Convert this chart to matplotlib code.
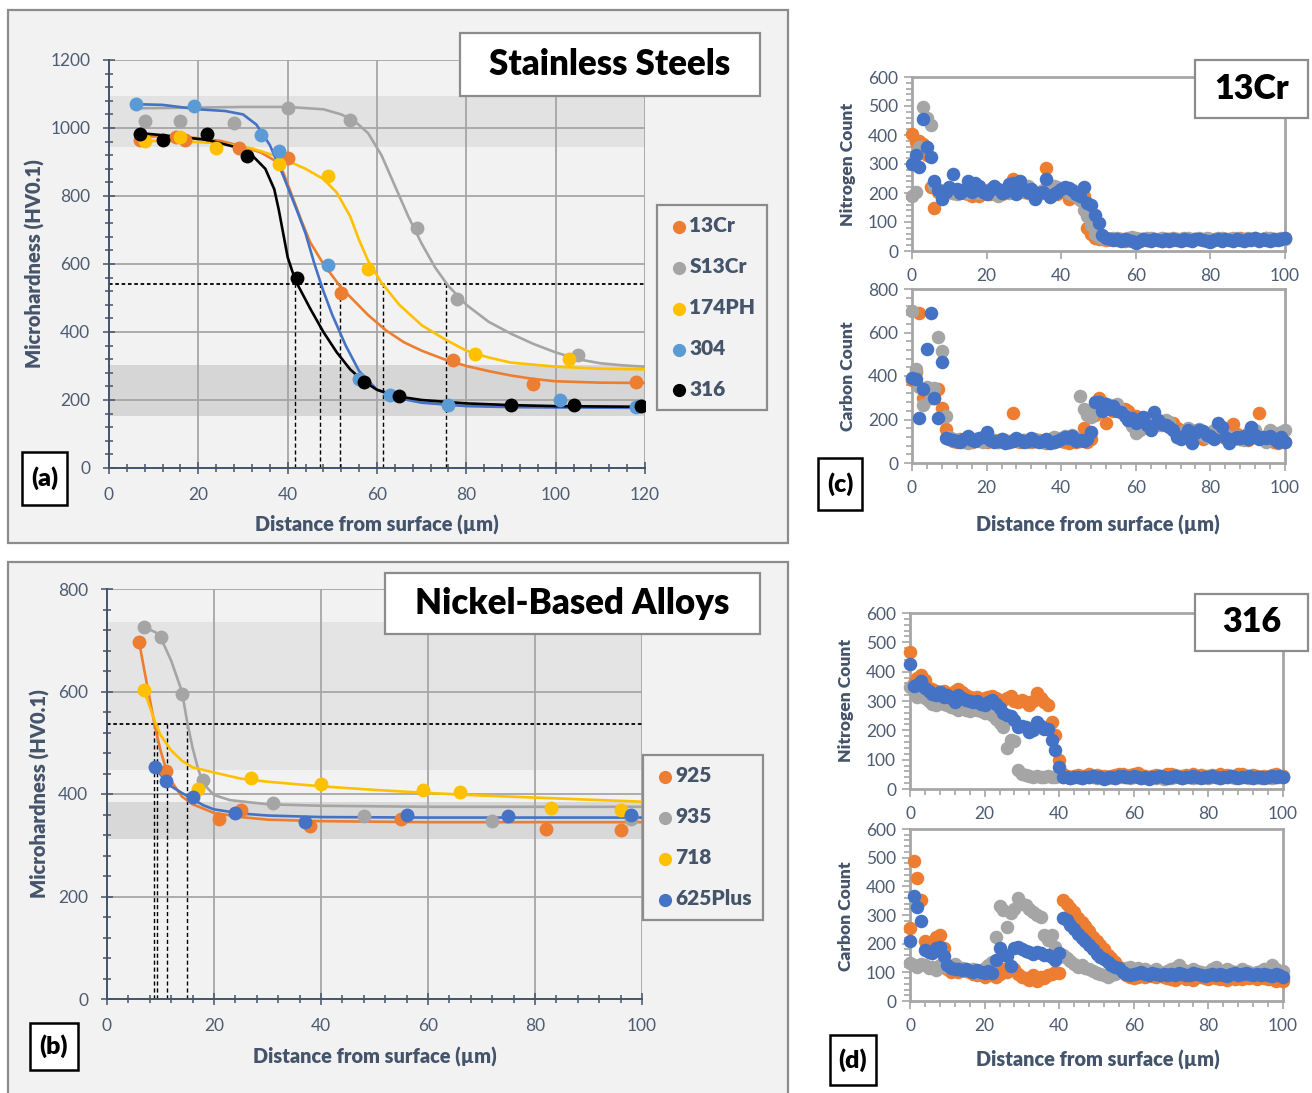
import matplotlib
matplotlib.use("Agg")
import matplotlib.pyplot as plt
from matplotlib.patches import Rectangle
from matplotlib.ticker import MultipleLocator

plt.rcParams['font.family'] = ['Lato', 'DejaVu Sans']

# ---------------- data: panel (a) stainless steels ----------------
ss_names = ['13Cr', 'S13Cr', '174PH', '304', '316']

pts_13cr_x = [7, 15, 17, 29, 40, 52, 77, 95, 118]
pts_13cr_y = [965, 975, 965, 940, 912, 515, 318, 248, 253]
pts_s13cr_x = [8, 16, 28, 40, 54, 69, 78, 105]
pts_s13cr_y = [1020, 1022, 1015, 1060, 1025, 705, 497, 332]
pts_174ph_x = [8, 16, 24, 38, 49, 58, 82, 103]
pts_174ph_y = [962, 975, 940, 895, 858, 585, 335, 320]
pts_304_x = [6, 19, 34, 38, 49, 56, 63, 76, 101, 118]
pts_304_y = [1072, 1065, 978, 932, 598, 262, 215, 186, 200, 180]
pts_316_x = [7, 12, 22, 31, 42, 57, 65, 90, 104, 119]
pts_316_y = [982, 965, 982, 918, 558, 253, 213, 186, 184, 182]

fit_13cr_x = [7, 15, 20, 25, 30, 34, 37, 39, 41, 43, 45, 48, 50, 52, 55, 58, 62, 66, 70, 75, 80, 85, 90, 95, 100, 110, 120]
fit_13cr_y = [975, 975, 970, 962, 945, 928, 905, 870, 800, 730, 665, 600, 565, 530, 490, 450, 405, 370, 345, 320, 300, 285, 272, 262, 255, 251, 250]
fit_s13cr_x = [7, 20, 30, 40, 48, 52, 55, 58, 61, 64, 67, 70, 73, 76, 80, 85, 90, 95, 100, 105, 110, 115, 120]
fit_s13cr_y = [1058, 1060, 1062, 1062, 1055, 1040, 1020, 985, 920, 830, 740, 660, 590, 535, 480, 430, 395, 365, 340, 320, 308, 302, 298]
fit_174ph_x = [7, 15, 25, 32, 38, 44, 48, 51, 54, 56, 58, 61, 65, 70, 75, 80, 85, 90, 100, 110, 120]
fit_174ph_y = [962, 962, 955, 940, 915, 880, 850, 810, 740, 670, 610, 545, 480, 420, 380, 345, 325, 310, 298, 292, 290]
fit_304_x = [6, 12, 20, 26, 30, 33, 36, 39, 42, 44, 46, 48, 50, 53, 56, 60, 65, 70, 80, 90, 100, 120]
fit_304_y = [1070, 1068, 1055, 1050, 1040, 1010, 950, 860, 760, 690, 600, 520, 450, 360, 285, 230, 205, 192, 182, 179, 178, 177]
fit_316_x = [7, 15, 22, 28, 32, 35, 37, 38, 39, 40, 41, 42, 45, 48, 51, 54, 57, 60, 65, 70, 80, 90, 100, 120]
fit_316_y = [985, 975, 965, 945, 920, 880, 820, 760, 690, 620, 580, 545, 470, 400, 340, 290, 255, 230, 210, 200, 190, 185, 182, 180]

ss_cross = [41.6, 47.2, 51.7, 61.3, 75.4]

# ---------------- data: panel (b) nickel-based alloys ----------------
ni_names = ['925', '935', '718', '625Plus']

pts_925_x = [6, 11, 21, 25, 38, 55, 82, 96]
pts_925_y = [697, 445, 352, 368, 338, 352, 332, 330]
pts_935_x = [7, 10, 14, 18, 31, 48, 72, 98]
pts_935_y = [725, 706, 595, 428, 383, 358, 347, 352]
pts_718_x = [7, 17, 27, 40, 59, 66, 83, 96]
pts_718_y = [603, 410, 432, 420, 407, 404, 372, 368]
pts_625_x = [9, 11, 16, 24, 37, 56, 75, 98]
pts_625_y = [452, 425, 395, 362, 345, 360, 358, 360]

fit_925_x = [6, 7, 8, 9, 10, 11, 12, 14, 16, 20, 25, 30, 40, 60, 80, 100]
fit_925_y = [697, 640, 585, 530, 485, 450, 425, 395, 380, 363, 355, 350, 347, 345, 345, 345]
fit_935_x = [7, 9, 10, 12, 14, 15, 16, 17, 18, 20, 23, 30, 40, 60, 80, 100]
fit_935_y = [725, 716, 706, 660, 600, 540, 490, 450, 420, 398, 388, 380, 377, 375, 375, 375]
fit_718_x = [7, 8, 9, 10, 12, 14, 16, 20, 25, 30, 40, 50, 60, 70, 80, 90, 100]
fit_718_y = [600, 570, 540, 515, 485, 465, 452, 442, 430, 424, 415, 408, 402, 397, 393, 389, 385]
fit_625_x = [9, 10, 11, 12, 14, 16, 18, 20, 25, 30, 40, 60, 80, 100]
fit_625_y = [452, 438, 425, 415, 402, 390, 378, 370, 362, 358, 355, 354, 354, 354]

ni_cross = [8.8, 9.3, 11.2, 15.0]

# ---------------- data: panels (c) and (d), counts vs depth ----------------
depth = list(range(0, 101))

n13_or = [405, 375, 378, 370, 330, 220, 150, 205, 195, 210,
          205, 200, 205, 210, 200, 195, 190, 200, 190, 205,
          200, 195, 205, 200, 195, 205, 210, 250, 225, 215,
          205, 200, 210, 200, 195, 205, 285, 210, 200, 195,
          210, 205, 180, 185, 205, 195, 190, 80, 60, 45,
          42, 40, 38, 40, 42, 38, 40, 35, 42, 40,
          38, 42, 40, 37, 40, 42, 38, 35, 40, 42,
          38, 40, 42, 37, 40, 38, 42, 40, 38, 40,
          42, 38, 40, 37, 42, 40, 38, 40, 45, 40,
          38, 42, 40, 38, 42, 45, 40, 38, 42, 40, 45]
n13_gr = [190, 205, 360, 495, 460, 435, 225, 215, 195, 205,
          210, 200, 195, 205, 210, 200, 215, 205, 200, 210,
          205, 215, 200, 190, 205, 210, 200, 220, 215, 205,
          210, 225, 215, 205, 200, 210, 200, 215, 225, 220,
          215, 210, 200, 195, 190, 175, 140, 120, 90, 60,
          48, 45, 42, 40, 44, 46, 42, 40, 45, 48,
          44, 42, 40, 46, 44, 40, 42, 45, 38, 42,
          45, 42, 40, 44, 46, 42, 40, 45, 42, 44,
          40, 42, 45, 44, 40, 42, 46, 44, 42, 40,
          44, 42, 45, 40, 42, 44, 46, 42, 40, 44, 42]
n13_bl = [300, 330, 290, 455, 360, 325, 240, 210, 180, 205,
          220, 265, 215, 200, 210, 240, 205, 235, 225, 205,
          195, 210, 225, 215, 200, 205, 230, 235, 195, 240,
          215, 205, 215, 180, 200, 205, 250, 185, 195, 205,
          215, 220, 218, 210, 195, 190, 222, 165, 160, 125,
          98, 55, 45, 40, 38, 42, 36, 40, 38, 35,
          28, 36, 40, 38, 35, 40, 38, 36, 40, 35,
          42, 38, 36, 40, 38, 35, 40, 42, 38, 36,
          32, 38, 40, 36, 42, 38, 35, 40, 38, 36,
          40, 38, 45, 36, 40, 38, 36, 40, 38, 42, 45]

c13_or = [380, 420, 688, 300, 295, 310, 300, 340, 255, 155,
          120, 100, 95, 110, 105, 100, 95, 105, 110, 100,
          95, 100, 105, 95, 100, 105, 95, 228, 100, 95,
          105, 100, 95, 100, 105, 95, 90, 100, 95, 105,
          100, 95, 90, 100, 95, 100, 160, 95, 110, 220,
          300, 280, 185, 250, 240, 260, 235, 250, 240, 210,
          215, 195, 200, 205, 180, 190, 185, 175, 195, 180,
          182, 160, 150, 140, 155, 145, 130, 140, 110, 125,
          135, 120, 140, 130, 115, 125, 180, 135, 110, 120,
          105, 115, 130, 231, 120, 110, 105, 95, 90, 100, 95]
c13_gr = [700, 432, 350, 267, 350, 300, 343, 578, 515, 215,
          120, 110, 105, 100, 95, 90, 105, 110, 100, 95,
          105, 110, 100, 95, 110, 100, 95, 105, 110, 100,
          105, 95, 100, 110, 100, 95, 105, 110, 120, 115,
          110, 125, 120, 130, 115, 308, 250, 220, 210, 250,
          260, 240, 250, 265, 255, 270, 240, 220, 200, 170,
          136, 150, 175, 190, 200, 185, 175, 195, 200, 190,
          150, 120, 130, 145, 160, 150, 140, 155, 130, 120,
          135, 150, 140, 155, 130, 120, 110, 125, 110, 105,
          140, 160, 150, 120, 110, 95, 150, 140, 120, 144, 150]
c13_bl = [390, 386, 205, 340, 523, 688, 300, 205, 466, 115,
          110, 105, 100, 95, 110, 125, 105, 100, 115, 120,
          144, 105, 95, 100, 110, 90, 95, 100, 115, 105,
          95, 100, 115, 100, 95, 100, 110, 90, 95, 100,
          110, 120, 115, 125, 100, 105, 100, 110, 144, 282,
          280, 240, 272, 250, 262, 240, 233, 218, 200, 207,
          185, 200, 213, 175, 152, 236, 200, 180, 175, 166,
          150, 120, 110, 125, 150, 90, 140, 150, 145, 130,
          125, 110, 182, 166, 120, 90, 110, 120, 115, 125,
          110, 166, 130, 110, 120, 115, 125, 110, 95, 120, 98]

n316_or = [468, 360, 380, 389, 370, 345, 340, 335, 330, 335,
           325, 320, 335, 340, 330, 320, 315, 310, 315, 305,
           310, 315, 318, 310, 300, 305, 310, 318, 300, 295,
           305, 295, 285, 300, 326, 310, 295, 286, 229, 184,
           99, 50, 45, 42, 45, 48, 44, 46, 50, 45,
           48, 44, 46, 42, 45, 48, 52, 50, 46, 48,
           50, 55, 48, 45, 42, 46, 48, 44, 46, 50,
           52, 48, 45, 44, 48, 46, 50, 45, 48, 46,
           44, 48, 46, 50, 45, 48, 46, 44, 50, 52,
           46, 44, 48, 45, 42, 46, 40, 48, 52, 46, 44]
n316_gr = [349, 340, 315, 320, 310, 300, 290, 285, 295, 290,
           285, 280, 275, 270, 280, 270, 265, 275, 270, 265,
           260, 262, 252, 240, 225, 212, 139, 167, 162, 65,
           50, 48, 45, 40, 45, 42, 40, 45, 42, 40,
           45, 40, 42, 38, 40, 42, 38, 40, 42, 40,
           38, 40, 42, 38, 40, 36, 40, 42, 40, 38,
           40, 42, 38, 40, 36, 40, 38, 42, 35, 40,
           38, 40, 42, 38, 40, 42, 38, 40, 42, 40,
           38, 40, 42, 38, 40, 42, 40, 38, 40, 42,
           40, 38, 40, 42, 38, 40, 42, 38, 40, 42, 40]
n316_bl = [425, 352, 355, 368, 345, 335, 325, 320, 330, 315,
           320, 310, 295, 320, 310, 305, 300, 295, 300, 290,
           285, 298, 305, 290, 275, 260, 252, 250, 235, 212,
           215, 210, 195, 200, 229, 215, 205, 205, 167, 133,
           76, 42, 40, 38, 42, 40, 38, 42, 40, 44,
           40, 42, 35, 40, 42, 38, 44, 46, 42, 40,
           44, 40, 38, 42, 34, 40, 42, 44, 40, 38,
           42, 46, 40, 38, 42, 40, 44, 42, 38, 42,
           40, 44, 42, 38, 40, 42, 44, 40, 38, 42,
           40, 44, 38, 42, 40, 36, 42, 44, 40, 46, 42]

c316_or = [254, 488, 428, 352, 210, 200, 190, 225, 230, 185,
           110, 100, 105, 100, 110, 105, 100, 95, 90, 100,
           85, 95, 90, 85, 95, 110, 100, 120, 110, 95,
           85, 80, 75, 90, 70, 85, 80, 90, 95, 100,
           98, 352, 340, 323, 310, 290, 275, 260, 245, 225,
           210, 195, 180, 160, 150, 135, 120, 100, 90, 85,
           80, 85, 90, 85, 95, 88, 82, 90, 85, 80,
           78, 75, 82, 85, 78, 80, 75, 82, 85, 80,
           78, 82, 80, 76, 80, 75, 82, 78, 80, 76,
           85, 80, 82, 78, 85, 80, 76, 78, 70, 75, 70]
c316_gr = [133, 125, 120, 130, 125, 115, 120, 108, 125, 130,
           120, 115, 130, 120, 115, 110, 105, 110, 100, 105,
           115, 125, 135, 224, 331, 317, 259, 307, 320, 358,
           340, 335, 320, 311, 300, 293, 229, 212, 230, 189,
           155, 160, 150, 140, 130, 120, 125, 115, 110, 105,
           96, 95, 90, 85, 90, 95, 100, 110, 115, 120,
           110, 115, 105, 110, 100, 105, 110, 100, 95, 105,
           110, 115, 125, 110, 105, 100, 110, 105, 100, 95,
           100, 110, 120, 105, 100, 110, 105, 100, 95, 110,
           105, 100, 95, 100, 105, 110, 100, 125, 110, 100, 105]
c316_bl = [210, 366, 327, 279, 178, 170, 166, 185, 190, 157,
           125, 115, 110, 112, 108, 110, 105, 100, 108, 100,
           98, 105, 98, 143, 184, 165, 158, 123, 184, 188,
           182, 175, 170, 165, 172, 168, 160, 160, 155, 143,
           167, 288, 282, 265, 250, 235, 220, 210, 195, 180,
           165, 155, 145, 135, 125, 118, 114, 100, 95, 92,
           95, 98, 100, 95, 92, 98, 95, 92, 95, 90,
           95, 92, 98, 95, 90, 92, 98, 95, 90, 88,
           92, 95, 90, 95, 92, 88, 95, 98, 92, 95,
           98, 95, 92, 95, 90, 95, 92, 88, 95, 90, 85]

# ---------------- styling ----------------
ORANGE, GRAY, YELLOW = '#ED7D31', '#A5A5A5', '#FFC000'
LBLUE, BLUE, BLACK = '#5B9BD5', '#4472C4', '#000000'
SLATE = '#44546A'
PANEL = '#f2f2f2'
BOLD = 'heavy'

W, H = 1312, 1093
fig = plt.figure(figsize=(W / 100, H / 100), dpi=100)


def fx(x):
    return x / W


def fy(y):
    return 1 - y / H


def axes_px(l, t, r, b):
    return fig.add_axes([l / W, 1 - b / H, (r - l) / W, (b - t) / H])


def box(x0, y0, x1, y1, face, edge, lw, z=5):
    fig.add_artist(Rectangle((fx(x0), fy(y1)), (x1 - x0) / W, (y1 - y0) / H,
                             transform=fig.transFigure, facecolor=face,
                             edgecolor=edge, lw=lw, zorder=z))


def label_box(x0, y0, x1, y1, text, size, edge='#8c8c8c', lw=1.6):
    box(x0, y0, x1, y1, 'white', edge, lw)
    fig.text(fx((x0 + x1) / 2), fy((y0 + y1) / 2), text, ha='center', va='center',
             fontsize=size, fontweight=BOLD, color='black', zorder=6)


# panel backgrounds
box(8, 10, 788, 543, PANEL, '#8c8c8c', 1.6, z=-2)
box(8, 562, 788, 1098, PANEL, '#8c8c8c', 1.6, z=-2)


def hardness_axes(ax, xmax, ymax, ymaj, bands):
    ax.set_facecolor('none')
    ax.set_xlim(0, xmax)
    ax.set_ylim(0, ymax)
    for lo, hi, col in bands:
        ax.axhspan(lo, hi, color=col, lw=0, zorder=0.2)
    ax.xaxis.set_major_locator(MultipleLocator(20))
    ax.xaxis.set_minor_locator(MultipleLocator(4))
    ax.yaxis.set_major_locator(MultipleLocator(ymaj))
    ax.yaxis.set_minor_locator(MultipleLocator(ymaj / 5))
    ax.set_axisbelow(True)
    ax.grid(True, which='major', color='#a6a6a6', lw=1.3)
    for s in ['top', 'right']:
        ax.spines[s].set_visible(False)
    for s in ['left', 'bottom']:
        ax.spines[s].set_color(SLATE)
        ax.spines[s].set_linewidth(1.4)
    ax.tick_params(which='both', direction='inout', color=SLATE, width=1.1,
                   labelcolor='#4e5c72', labelsize=12.5)
    ax.tick_params(which='major', length=9)
    ax.tick_params(which='minor', length=6)
    ax.tick_params(axis='y', pad=9)
    ax.tick_params(axis='x', pad=9)


def hardness_legend(ax, handles, x, y):
    leg = ax.legend(handles=handles, loc='upper left', bbox_to_anchor=(fx(x), fy(y)),
                    bbox_transform=fig.transFigure, frameon=True, fancybox=False,
                    edgecolor='#8c8c8c', facecolor=PANEL, framealpha=1,
                    prop={'weight': BOLD, 'size': 15}, labelcolor=SLATE,
                    handletextpad=0.0, labelspacing=1.05, borderpad=0.55,
                    handlelength=1.0, scatterpoints=1, markerscale=0.95,
                    borderaxespad=0)
    leg.get_frame().set_linewidth(1.6)
    leg.set_zorder(6)


# ---------------- panel (a) ----------------
ax_a = axes_px(109, 60, 645, 468)
hardness_axes(ax_a, 120, 1200, 200, [(945, 1095, '#e2e2e2'), (153, 303, '#d6d6d6')])
ax_a.hlines(540, 0, 120, colors='black', linestyles=(0, (2, 1.5)), lw=1.3, zorder=2)
ax_a.vlines(ss_cross, 0, 540, colors='black', linestyles=(0, (3, 2)), lw=1.0, zorder=2)

ss_series = [
    (pts_13cr_x, pts_13cr_y, fit_13cr_x, fit_13cr_y, ORANGE, ORANGE),
    (pts_s13cr_x, pts_s13cr_y, fit_s13cr_x, fit_s13cr_y, GRAY, GRAY),
    (pts_174ph_x, pts_174ph_y, fit_174ph_x, fit_174ph_y, YELLOW, YELLOW),
    (pts_304_x, pts_304_y, fit_304_x, fit_304_y, LBLUE, BLUE),
    (pts_316_x, pts_316_y, fit_316_x, fit_316_y, BLACK, BLACK),
]
handles = []
for (px, py, lx, ly, pc, lc), name in zip(ss_series, ss_names):
    ax_a.plot(lx, ly, color=lc, lw=1.9, zorder=3, solid_capstyle='round')
    h = ax_a.scatter(px, py, s=100, color=pc, zorder=4, label=name, linewidths=0)
    handles.append(h)
hardness_legend(ax_a, handles, 657, 205)

fig.text(fx(35), fy(264), 'Microhardness (HV0.1)', rotation=90, ha='center', va='center',
         fontsize=14.5, fontweight=BOLD, color=SLATE)
fig.text(fx(377), fy(525), 'Distance from surface (µm)', ha='center', va='center',
         fontsize=14.3, fontweight=BOLD, color=SLATE)
label_box(460, 33, 760, 96, 'Stainless Steels', 25)
label_box(22, 452, 67, 505, '(a)', 18, edge='black', lw=1.8)

# ---------------- panel (b) ----------------
ax_b = axes_px(107, 589, 642, 999)
hardness_axes(ax_b, 100, 800, 200, [(447, 735, '#e4e4e4'), (313, 385, '#d8d8d8')])
ax_b.hlines(537, 0, 100, colors='black', linestyles=(0, (2, 1.5)), lw=1.3, zorder=2)
ax_b.vlines(ni_cross, 0, 537, colors='black', linestyles=(0, (3, 2)), lw=1.0, zorder=2)

ni_series = [
    (pts_925_x, pts_925_y, fit_925_x, fit_925_y, ORANGE),
    (pts_935_x, pts_935_y, fit_935_x, fit_935_y, GRAY),
    (pts_718_x, pts_718_y, fit_718_x, fit_718_y, YELLOW),
    (pts_625_x, pts_625_y, fit_625_x, fit_625_y, BLUE),
]
handles = []
for (px, py, lx, ly, c), name in zip(ni_series, ni_names):
    ax_b.plot(lx, ly, color=c, lw=1.9, zorder=3, solid_capstyle='round')
    h = ax_b.scatter(px, py, s=100, color=c, zorder=4, label=name, linewidths=0)
    handles.append(h)
hardness_legend(ax_b, handles, 643, 755)

fig.text(fx(40), fy(794), 'Microhardness (HV0.1)', rotation=90, ha='center', va='center',
         fontsize=14.5, fontweight=BOLD, color=SLATE)
fig.text(fx(375), fy(1057), 'Distance from surface (µm)', ha='center', va='center',
         fontsize=14.3, fontweight=BOLD, color=SLATE)
label_box(385, 573, 760, 634, 'Nickel-Based Alloys', 25)
label_box(30, 1023, 78, 1070, '(b)', 18, edge='black', lw=1.8)


# ---------------- panels (c) and (d) ----------------
def count_axes(ax, ymax, ymaj, ymin, xminor):
    ax.set_xlim(0, 100)
    ax.set_ylim(0, ymax)
    ax.xaxis.set_major_locator(MultipleLocator(20))
    if xminor:
        ax.xaxis.set_minor_locator(MultipleLocator(4))
    ax.yaxis.set_major_locator(MultipleLocator(ymaj))
    ax.yaxis.set_minor_locator(MultipleLocator(ymin))
    for s in ax.spines.values():
        s.set_color('#a6a6a6')
        s.set_linewidth(2)
    ax.tick_params(which='both', direction='out', color='#a6a6a6', width=1.2,
                   labelcolor='#4e5c72', labelsize=12.5)
    ax.tick_params(which='major', length=6)
    ax.tick_params(which='minor', length=4)
    ax.tick_params(axis='x', pad=6)
    ax.tick_params(axis='y', pad=4)


def scatter3(ax, a, b, c):
    for vals, col in [(a, ORANGE), (b, GRAY), (c, BLUE)]:
        ax.scatter(depth, vals, s=95, color=col, linewidths=0, zorder=3, clip_on=False)


ax_c1 = axes_px(912, 77, 1285, 251)
count_axes(ax_c1, 600, 100, 20, False)
scatter3(ax_c1, n13_or, n13_gr, n13_bl)
ax_c2 = axes_px(912, 289, 1285, 463)
count_axes(ax_c2, 800, 200, 40, True)
scatter3(ax_c2, c13_or, c13_gr, c13_bl)

ax_d1 = axes_px(910, 613, 1283, 789)
count_axes(ax_d1, 600, 100, 20, True)
scatter3(ax_d1, n316_or, n316_gr, n316_bl)
ax_d2 = axes_px(910, 829, 1283, 1001)
count_axes(ax_d2, 600, 100, 20, True)
scatter3(ax_d2, c316_or, c316_gr, c316_bl)

for x, y, t in [(848, 164, 'Nitrogen Count'), (848, 376, 'Carbon Count'),
                (846, 700, 'Nitrogen Count'), (846, 916, 'Carbon Count')]:
    fig.text(fx(x), fy(y), t, rotation=90, ha='center', va='center',
             fontsize=12.6, fontweight=BOLD, color=SLATE)
fig.text(fx(1098), fy(525), 'Distance from surface (µm)', ha='center', va='center',
         fontsize=14.3, fontweight=BOLD, color=SLATE)
fig.text(fx(1098), fy(1060), 'Distance from surface (µm)', ha='center', va='center',
         fontsize=14.3, fontweight=BOLD, color=SLATE)

label_box(1195, 60, 1308, 118, '13Cr', 24.5)
label_box(1195, 594, 1308, 651, '316', 24.5)
label_box(818, 458, 862, 510, '(c)', 18, edge='black', lw=1.8)
label_box(830, 1035, 876, 1085, '(d)', 18, edge='black', lw=1.8)

fig.savefig('out.png', dpi=100)
